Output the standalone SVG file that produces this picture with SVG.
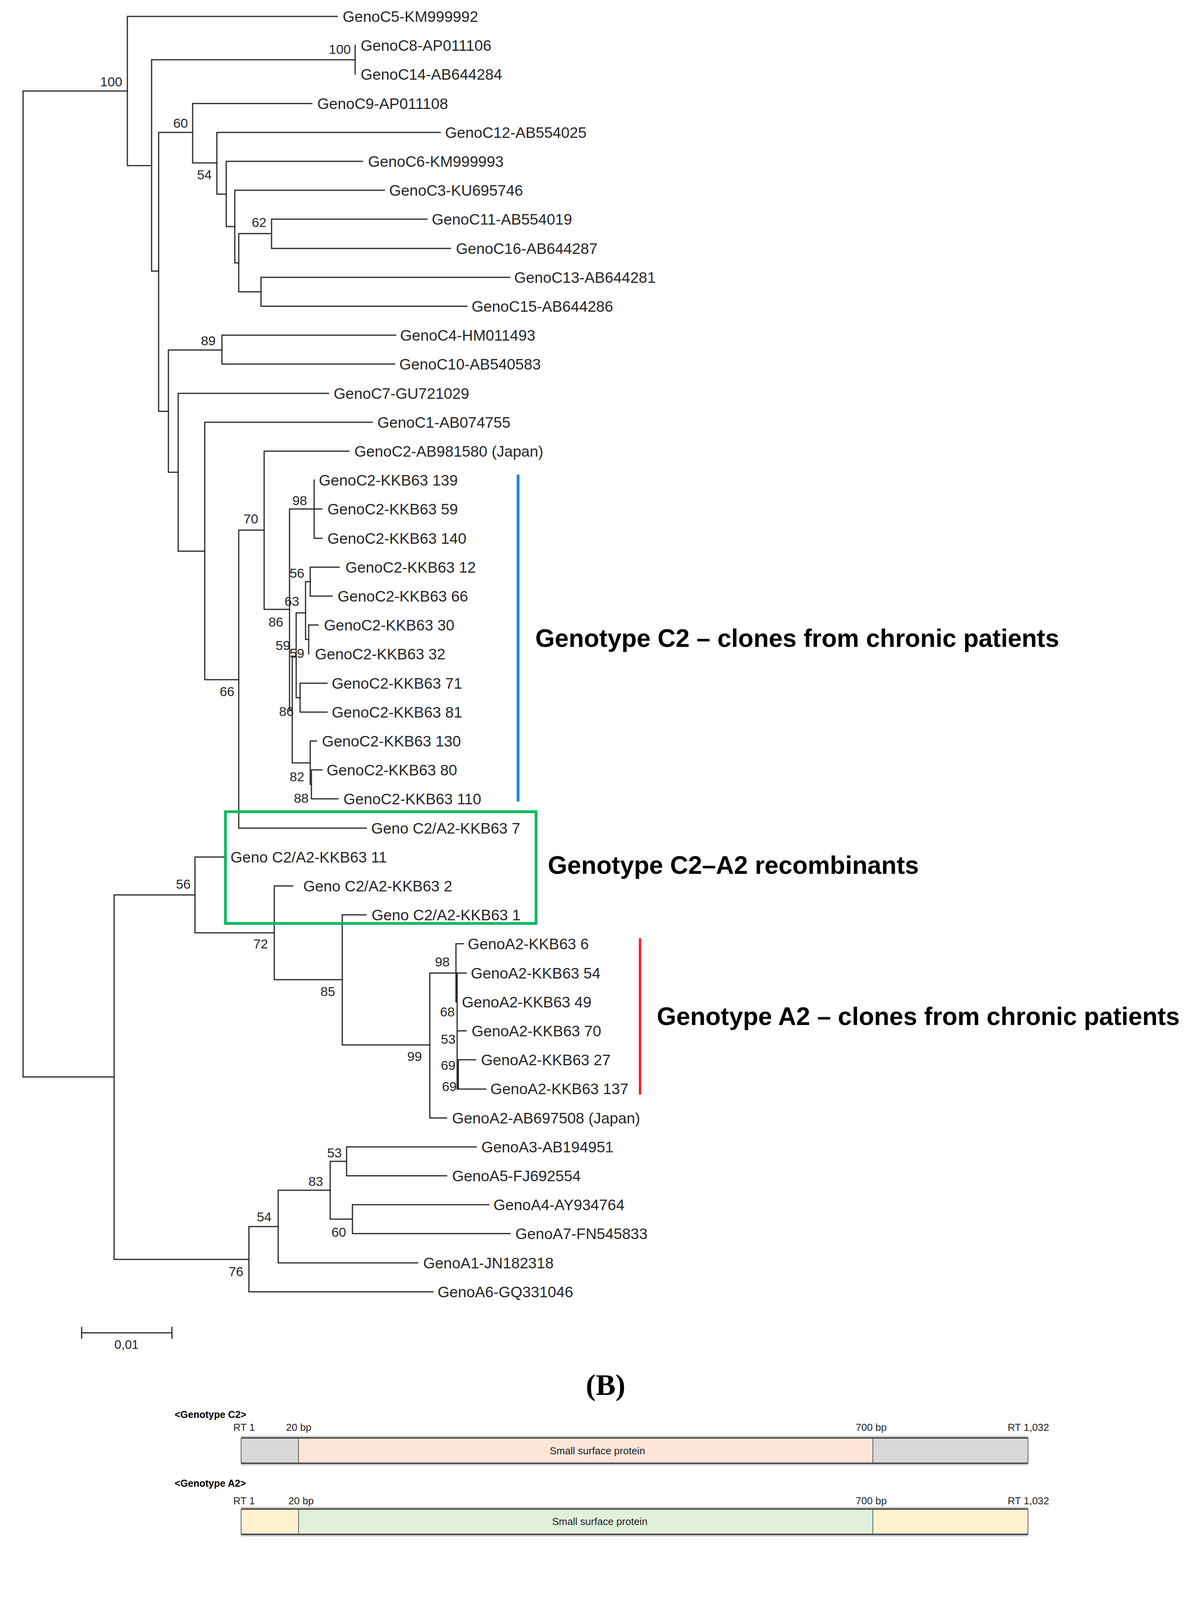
<svg xmlns="http://www.w3.org/2000/svg" width="3061" height="4724" viewBox="0 0 3061 4724">
<style>
.br{fill:none;stroke:#262626;stroke-width:3;stroke-linecap:square}
.lf{font-family:"Liberation Sans",Arial,sans-serif;font-size:39px;fill:#262626}
.bs{font-family:"Liberation Sans",Arial,sans-serif;font-size:34px;fill:#262626;text-anchor:end}
.tt{font-family:"Liberation Sans",Arial,sans-serif;font-size:64px;font-weight:bold;fill:#000}
.pl{font-family:"Liberation Serif","Times New Roman",serif;font-size:76px;font-weight:bold;fill:#000;text-anchor:middle}
.sm{font-family:"Liberation Sans",Arial,sans-serif;font-size:26px;fill:#222}
.smc{font-family:"Liberation Sans",Arial,sans-serif;font-size:26px;fill:#222;text-anchor:middle}
.smb{font-family:"Liberation Sans",Arial,sans-serif;font-size:25px;font-weight:bold;fill:#000}
.smr{font-family:"Liberation Sans",Arial,sans-serif;font-size:25px;font-weight:bold;fill:#000;text-anchor:end}
.gy{fill:#d9d9d9}.pk{fill:#fde6d8}.gn{fill:#e0f0da}.yl{fill:#fff2cc}
.dv{stroke:#333;stroke-width:1.5;fill:none}
.ed{stroke:#4d4d4d;stroke-width:4;fill:none}
.sh{stroke:#cfcfcf;stroke-width:3;fill:none}
</style>
<rect width="3061" height="4724" fill="#fff"/>
<g id="connectors">
<path class="br" d="M59,233V2757 M59,233H326 M59,2757H292"/>
<path class="br" d="M326,42V424 M326,42H863 M326,424H388"/>
<path class="br" d="M388,153V694 M388,153H909 M388,694H406"/>
<path class="br" d="M909,116V190"/>
<path class="br" d="M406,339V1053 M406,339H493 M406,1053H431"/>
<path class="br" d="M493,265V417 M493,265H798 M493,417H555"/>
<path class="br" d="M555,339V497 M555,339H1127 M555,497H579"/>
<path class="br" d="M579,413V580 M579,413H928 M579,580H601"/>
<path class="br" d="M601,487V673 M601,487H984 M601,673H611"/>
<path class="br" d="M611,598V747 M611,598H695 M611,747H668"/>
<path class="br" d="M695,561V636 M695,561H1093 M695,636H1153"/>
<path class="br" d="M668,710V784 M668,710H1305 M668,784H1195"/>
<path class="br" d="M431,896V1209 M431,896H568 M431,1209H456"/>
<path class="br" d="M568,858V932 M568,858H1013 M568,932H1010"/>
<path class="br" d="M456,1007V1411 M456,1007H841 M456,1411H524"/>
<path class="br" d="M524,1081V1740 M524,1081H953 M524,1740H611"/>
<path class="br" d="M611,1357V2120 M611,1357H676 M611,2120H937"/>
<path class="br" d="M676,1155V1560 M676,1155H893 M676,1560H741"/>
<path class="br" d="M741,1303V1817 M741,1303H824 M741,1817H748"/>
<path class="br" d="M804,1229V1378 M804,1378H824"/>
<path class="br" d="M748,1680V1953 M748,1680H758 M748,1953H794"/>
<path class="br" d="M758,1569V1786 M758,1569H782 M758,1786H768"/>
<path class="br" d="M782,1489V1637 M782,1489H794 M782,1637H790"/>
<path class="br" d="M794,1452V1526 M794,1452H868 M794,1526H850"/>
<path class="br" d="M790,1600V1674 M790,1600H814"/>
<path class="br" d="M768,1749V1823 M768,1749H837 M768,1823H837"/>
<path class="br" d="M794,1897V2008 M794,1897H810 M794,2008H797"/>
<path class="br" d="M797,1971V2045 M797,1971H824 M797,2045H865"/>
<path class="br" d="M292,2291V3224 M292,2291H499 M292,3224H637"/>
<path class="br" d="M499,2194V2388 M499,2194H578 M499,2388H702"/>
<path class="br" d="M702,2268V2508 M702,2268H749 M702,2508H876"/>
<path class="br" d="M876,2342V2675 M876,2342H937 M876,2675H1100"/>
<path class="br" d="M1100,2491V2862 M1100,2491H1193 M1100,2862H1143"/>
<path class="br" d="M1167,2416V2565 M1167,2416H1186 M1170,2491V2788 M1170,2639H1193 M1173,2713V2788 M1173,2713H1217 M1173,2788H1243"/>
<path class="br" d="M637,3140V3307 M637,3140H712 M637,3307H1108"/>
<path class="br" d="M712,3047V3233 M712,3047H845 M712,3233H1069"/>
<path class="br" d="M845,2973V3121 M845,2973H887 M845,3121H902"/>
<path class="br" d="M887,2936V3010 M887,2936H1219 M887,3010H1143"/>
<path class="br" d="M902,3084V3158 M902,3084H1251 M902,3158H1305"/>
</g>
<g id="leaves">
<g id="leaf-C5"><text class="lf" x="877" y="56">GenoC5-KM999992</text></g>
<g id="leaf-C8"><text class="lf" x="923" y="130">GenoC8-AP011106</text></g>
<g id="leaf-C14"><text class="lf" x="923" y="204">GenoC14-AB644284</text></g>
<g id="leaf-C9"><text class="lf" x="812" y="279">GenoC9-AP011108</text></g>
<g id="leaf-C12"><text class="lf" x="1139" y="353">GenoC12-AB554025</text></g>
<g id="leaf-C6"><text class="lf" x="942" y="427">GenoC6-KM999993</text></g>
<g id="leaf-C3"><text class="lf" x="996" y="501">GenoC3-KU695746</text></g>
<g id="leaf-C11"><text class="lf" x="1105" y="575">GenoC11-AB554019</text></g>
<g id="leaf-C16"><text class="lf" x="1167" y="650">GenoC16-AB644287</text></g>
<g id="leaf-C13"><text class="lf" x="1316" y="724">GenoC13-AB644281</text></g>
<g id="leaf-C15"><text class="lf" x="1207" y="798">GenoC15-AB644286</text></g>
<g id="leaf-C4"><text class="lf" x="1024" y="872">GenoC4-HM011493</text></g>
<g id="leaf-C10"><text class="lf" x="1022" y="946">GenoC10-AB540583</text></g>
<g id="leaf-C7"><text class="lf" x="854" y="1021">GenoC7-GU721029</text></g>
<g id="leaf-C1"><text class="lf" x="966" y="1095">GenoC1-AB074755</text></g>
<g id="leaf-C2J"><text class="lf" x="907" y="1169">GenoC2-AB981580 (Japan)</text></g>
<g id="leaf-C2-139"><text class="lf" x="816" y="1243">GenoC2-KKB63 139</text></g>
<g id="leaf-C2-59"><text class="lf" x="838" y="1317">GenoC2-KKB63 59</text></g>
<g id="leaf-C2-140"><text class="lf" x="838" y="1392">GenoC2-KKB63 140</text></g>
<g id="leaf-C2-12"><text class="lf" x="884" y="1466">GenoC2-KKB63 12</text></g>
<g id="leaf-C2-66"><text class="lf" x="864" y="1540">GenoC2-KKB63 66</text></g>
<g id="leaf-C2-30"><text class="lf" x="829" y="1614">GenoC2-KKB63 30</text></g>
<g id="leaf-C2-32"><text class="lf" x="806" y="1688">GenoC2-KKB63 32</text></g>
<g id="leaf-C2-71"><text class="lf" x="849" y="1763">GenoC2-KKB63 71</text></g>
<g id="leaf-C2-81"><text class="lf" x="849" y="1837">GenoC2-KKB63 81</text></g>
<g id="leaf-C2-130"><text class="lf" x="824" y="1911">GenoC2-KKB63 130</text></g>
<g id="leaf-C2-80"><text class="lf" x="836" y="1985">GenoC2-KKB63 80</text></g>
<g id="leaf-C2-110"><text class="lf" x="879" y="2059">GenoC2-KKB63 110</text></g>
<g id="leaf-R7"><text class="lf" x="950" y="2134">Geno C2/A2-KKB63 7</text></g>
<g id="leaf-R11"><text class="lf" x="590" y="2208">Geno C2/A2-KKB63 11</text></g>
<g id="leaf-R2"><text class="lf" x="776" y="2282">Geno C2/A2-KKB63 2</text></g>
<g id="leaf-R1"><text class="lf" x="951" y="2356">Geno C2/A2-KKB63 1</text></g>
<g id="leaf-A2-6"><text class="lf" x="1197" y="2430">GenoA2-KKB63 6</text></g>
<g id="leaf-A2-54"><text class="lf" x="1205" y="2505">GenoA2-KKB63 54</text></g>
<g id="leaf-A2-49"><text class="lf" x="1182" y="2579">GenoA2-KKB63 49</text></g>
<g id="leaf-A2-70"><text class="lf" x="1207" y="2653">GenoA2-KKB63 70</text></g>
<g id="leaf-A2-27"><text class="lf" x="1231" y="2727">GenoA2-KKB63 27</text></g>
<g id="leaf-A2-137"><text class="lf" x="1255" y="2801">GenoA2-KKB63 137</text></g>
<g id="leaf-A2J"><text class="lf" x="1157" y="2876">GenoA2-AB697508 (Japan)</text></g>
<g id="leaf-A3"><text class="lf" x="1232" y="2950">GenoA3-AB194951</text></g>
<g id="leaf-A5"><text class="lf" x="1157" y="3024">GenoA5-FJ692554</text></g>
<g id="leaf-A4"><text class="lf" x="1263" y="3098">GenoA4-AY934764</text></g>
<g id="leaf-A7"><text class="lf" x="1319" y="3172">GenoA7-FN545833</text></g>
<g id="leaf-A1"><text class="lf" x="1083" y="3247">GenoA1-JN182318</text></g>
<g id="leaf-A6"><text class="lf" x="1120" y="3321">GenoA6-GQ331046</text></g>
</g>
<g id="bootstrap">
<text class="bs" x="313" y="221">100</text>
<text class="bs" x="898" y="138">100</text>
<text class="bs" x="481" y="327">60</text>
<text class="bs" x="542" y="459">54</text>
<text class="bs" x="682" y="581">62</text>
<text class="bs" x="552" y="884">89</text>
<text class="bs" x="661" y="1340">70</text>
<text class="bs" x="786" y="1293">98</text>
<text class="bs" x="779" y="1479">56</text>
<text class="bs" x="766" y="1551">63</text>
<text class="bs" x="725" y="1604">86</text>
<text class="bs" x="743" y="1664">59</text>
<text class="bs" x="779" y="1684">59</text>
<text class="bs" x="600" y="1782">66</text>
<text class="bs" x="752" y="1833">86</text>
<text class="bs" x="779" y="2000">82</text>
<text class="bs" x="790" y="2055">88</text>
<text class="bs" x="488" y="2275">56</text>
<text class="bs" x="686" y="2428">72</text>
<text class="bs" x="858" y="2550">85</text>
<text class="bs" x="1151" y="2474">98</text>
<text class="bs" x="1164" y="2602">68</text>
<text class="bs" x="1166" y="2672">53</text>
<text class="bs" x="1166" y="2739">69</text>
<text class="bs" x="1169" y="2793">69</text>
<text class="bs" x="1080" y="2716">99</text>
<text class="bs" x="875" y="2963">53</text>
<text class="bs" x="827" y="3036">83</text>
<text class="bs" x="886" y="3166">60</text>
<text class="bs" x="695" y="3127">54</text>
<text class="bs" x="623" y="3267">76</text>
</g>
<g id="clade-marks">
<path d="M1326,1215V2052" stroke="#1a84d6" stroke-width="7" fill="none"/>
<rect x="577" y="2078" width="795" height="286" fill="none" stroke="#00b85c" stroke-width="7"/>
<path d="M1638,2402V2802" stroke="#ff1a1a" stroke-width="6" fill="none"/>
<text class="tt" x="1370" y="1656">Genotype C2 – clones from chronic patients</text>
<text class="tt" x="1402" y="2237">Genotype C2–A2 recombinants</text>
<text class="tt" x="1681" y="2624">Genotype A2 – clones from chronic patients</text>
</g>
<g id="scale-bar">
<path class="br" d="M209,3412H440 M209,3398V3426 M440,3398V3426"/>
<text class="smc" style="font-size:32px" x="324" y="3453">0,01</text>
</g>
<g id="label-B"><text class="pl" x="1550" y="3571">(B)</text></g>
<g id="panel-C">
<g id="ref-C2">
<text class="smb" x="447" y="3630">&lt;Genotype C2&gt;</text>
<text class="sm" x="597" y="3663">RT 1</text>
<text class="sm" x="732" y="3663">20 bp</text>
<text class="sm" x="2190" y="3663">700 bp</text>
<text class="sm" x="2579" y="3663">RT 1,032</text>
<rect class="gy" x="617" y="3681" width="147" height="65"/>
<rect class="pk" x="764" y="3681" width="1470" height="65"/>
<rect class="gy" x="2234" y="3681" width="397" height="65"/>
<path class="sh" d="M617,3677H2631 M617,3750H2631"/>
<path class="dv" d="M617,3681V3746 M764,3681V3746 M2234,3681V3746 M2631,3681V3746"/>
<path class="ed" d="M617,3681H2631 M617,3746H2631"/>
<text class="smc" x="1529" y="3723">Small surface protein</text>
</g>
<g id="ref-A2">
<text class="smb" x="447" y="3806">&lt;Genotype A2&gt;</text>
<text class="sm" x="597" y="3851">RT 1</text>
<text class="sm" x="738" y="3851">20 bp</text>
<text class="sm" x="2190" y="3851">700 bp</text>
<text class="sm" x="2579" y="3851">RT 1,032</text>
<rect class="yl" x="617" y="3863" width="147" height="65"/>
<rect class="gn" x="764" y="3863" width="1470" height="65"/>
<rect class="yl" x="2234" y="3863" width="397" height="65"/>
<path class="sh" d="M617,3859H2631 M617,3932H2631"/>
<path class="dv" d="M617,3863V3928 M764,3863V3928 M2234,3863V3928 M2631,3863V3928"/>
<path class="ed" d="M617,3863H2631 M617,3928H2631"/>
<text class="smc" x="1535" y="3904">Small surface protein</text>
</g>
<text class="sm" x="611" y="4119">Genotype C2</text>
<text class="sm" x="2471" y="4119">Genotype A2</text>
<g id="kkb63-1">
<text class="smr" x="597" y="4177">KKB63-1</text>
<rect class="gy" x="615" y="4133" width="146" height="65"/>
<rect class="pk" x="761" y="4133" width="633" height="65"/>
<rect class="gn" x="1394" y="4133" width="840" height="65"/>
<rect class="yl" x="2234" y="4133" width="397" height="65"/>
<path class="sh" d="M615,4129H2631 M615,4202H2631"/>
<path class="dv" d="M615,4133V4198 M761,4133V4198 M1394,4133V4198 M2234,4133V4198 M2631,4133V4198"/>
<path class="ed" d="M615,4133H2631 M615,4198H2631"/>
<text class="smc" x="1045" y="4174">Genotype C2</text>
<text class="smc" x="1812" y="4174">Genotype A2</text>
<text class="smb" x="1397" y="4131">236 bp</text>
</g>
<g id="kkb63-2">
<text class="smr" x="597" y="4283">KKB63-2</text>
<rect class="gy" x="615" y="4241" width="146" height="65"/>
<rect class="pk" x="761" y="4241" width="908" height="65"/>
<rect class="gn" x="1669" y="4241" width="559" height="65"/>
<rect class="yl" x="2228" y="4243" width="403" height="67"/>
<path class="sh" d="M615,4237H2631 M615,4310H2228 M2228,4314H2631"/>
<path class="dv" d="M615,4241V4306 M761,4241V4306 M1669,4241V4306 M2228,4241V4310 M2631,4243V4310"/>
<path class="ed" d="M615,4241H2631 M615,4306H2228 M2228,4310H2631"/>
<text class="smc" x="1123" y="4282">Genotype C2</text>
<text class="smc" x="1943" y="4282">Genotype A2</text>
<text class="smb" x="1674" y="4237">405 bp</text>
</g>
<g id="kkb63-11">
<text class="smr" x="597" y="4391">KKB63-11</text>
<rect class="gy" x="615" y="4349" width="146" height="65"/>
<rect class="pk" x="761" y="4349" width="1284" height="65"/>
<rect class="gn" x="2045" y="4349" width="183" height="65"/>
<rect class="yl" x="2228" y="4349" width="403" height="65"/>
<path class="sh" d="M615,4345H2631 M615,4418H2631"/>
<path class="dv" d="M615,4349V4414 M761,4349V4414 M2045,4349V4414 M2228,4349V4414 M2631,4349V4414"/>
<path class="ed" d="M615,4349H2631 M615,4414H2631"/>
<text class="smc" x="1292" y="4390">Genotype C2</text>
<text class="smc" x="2135" y="4390">Genotype A2</text>
<text class="smb" x="2045" y="4345">621 bp</text>
</g>
<g id="kkb63-7">
<text class="smr" x="597" y="4502">KKB63-7</text>
<rect class="gy" x="615" y="4458" width="146" height="65"/>
<rect class="pk" x="761" y="4458" width="1470" height="65"/>
<rect class="gy" x="2231" y="4458" width="253" height="65"/>
<rect class="yl" x="2484" y="4458" width="147" height="65"/>
<path class="sh" d="M615,4454H2631 M615,4527H2631"/>
<path class="dv" d="M615,4458V4523 M761,4458V4523 M2231,4458V4523 M2484,4458V4523 M2631,4458V4523"/>
<path class="ed" d="M615,4458H2631 M615,4523H2631"/>
<text class="smc" x="1516" y="4499">Genotype C2</text>
<text class="smc" x="2343" y="4499">Genotype C2</text>
<text class="smb" x="2486" y="4454">922 bp</text>
</g>
</g>
<g id="label-C"><text class="pl" x="1550" y="4638">(C)</text></g>
</svg>
